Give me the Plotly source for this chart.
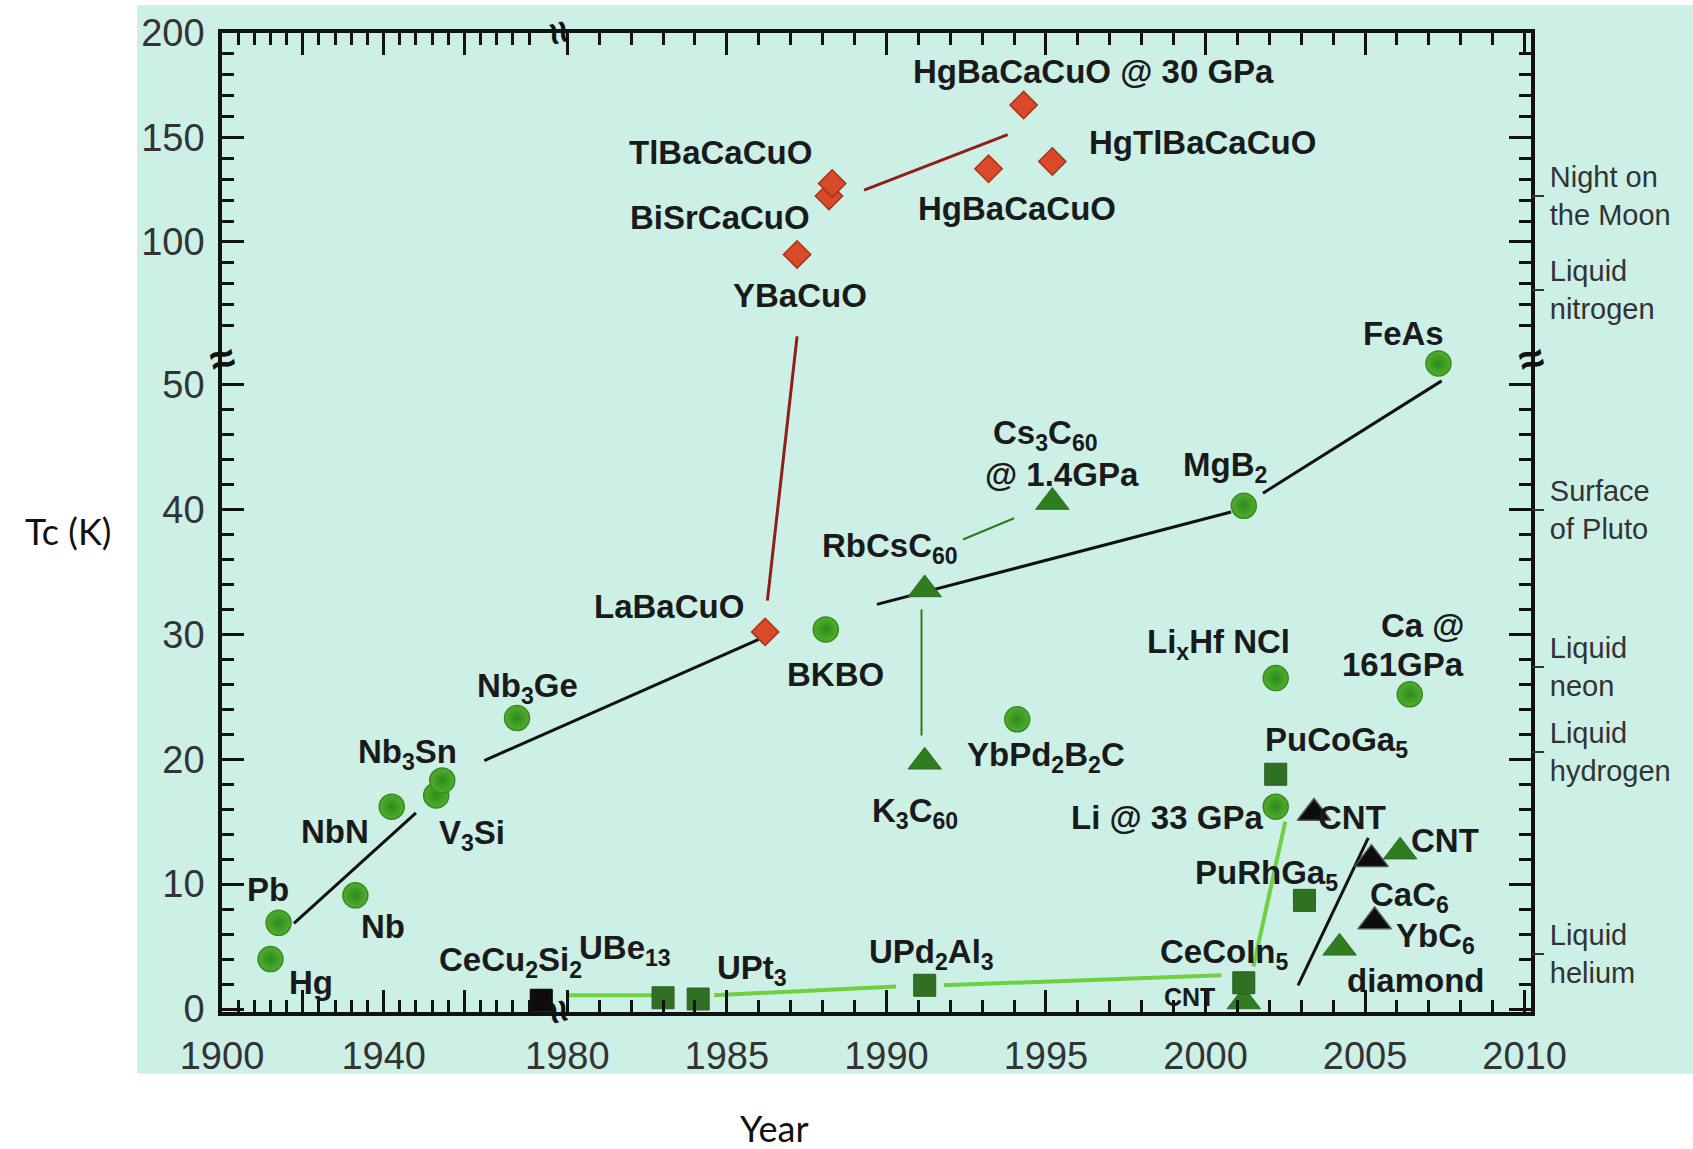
import numpy as np
import plotly.graph_objects as go

# ---------------- data (year, Tc in K) ----------------
CIRCLE_NAMES = ["Hg", "Pb", "Nb", "NbN", "V3Si", "Nb3Sn", "Nb3Ge", "BKBO", "YbPd2B2C",
                "MgB2", "LixHfNCl", "Li @ 33 GPa", "Ca @ 161GPa", "FeAs"]
CIRCLE_YEAR = [1912, 1914, 1933, 1942, 1953, 1954.5, 1973, 1988.1, 1994.1,
               2001.2, 2002.2, 2002.2, 2006.4, 2007.3]
CIRCLE_TC = [4.0, 6.9, 9.1, 16.2, 17.1, 18.3, 23.3, 30.4, 23.2,
             40.3, 26.5, 16.2, 25.2, 51.7]

SQUARE_NAMES = ["UBe13", "UPt3", "UPd2Al3", "CeCoIn5", "PuCoGa5", "PuRhGa5"]
SQUARE_YEAR = [1983.0, 1984.1, 1991.2, 2001.2, 2002.2, 2003.1]
SQUARE_TC = [0.9, 0.8, 1.9, 2.1, 18.8, 8.7]

BLACK_SQUARE_NAMES = ["CeCu2Si2"]
BLACK_SQUARE_YEAR = [1979.0]
BLACK_SQUARE_TC = [0.7]

GREEN_TRI_NAMES = ["RbCsC60", "K3C60", "Cs3C60 @ 1.4GPa", "CNT", "diamond", "CNT (2001)"]
GREEN_TRI_YEAR = [1991.2, 1991.2, 1995.2, 2006.1, 2004.2, 2001.2]
GREEN_TRI_TC = [33.6, 19.8, 40.6, 12.6, 4.9, 0.6]

BLACK_TRI_NAMES = ["CNT", "CaC6", "YbC6"]
BLACK_TRI_YEAR = [2003.4, 2005.2, 2005.3]
BLACK_TRI_TC = [15.7, 12.0, 7.0]

DIAMOND_NAMES = ["LaBaCuO", "YBaCuO", "BiSrCaCuO", "TlBaCaCuO", "HgBaCaCuO",
                 "HgTlBaCaCuO", "HgBaCaCuO @ 30 GPa"]
DIAMOND_YEAR = [1986.2, 1987.2, 1988.2, 1988.3, 1993.2, 1995.2, 1994.3]
DIAMOND_TC = [30.2, 94.0, 122.0, 128.0, 135.0, 138.5, 165.5]

# guide lines: (year0, Tc0, year1, Tc1)
BLACK_LINES = [(1917.8, 6.85, 1948.0, 15.7),
               (1964.9, 19.9, 1986.0, 29.6),
               (1989.7, 32.4, 2000.8, 39.8),
               (2001.8, 41.3, 2007.4, 50.3),
               (2002.9, 1.9, 2005.1, 13.7)]
RED_LINES = [(1986.27, 32.7, 1987.2, 54.8),
             (1989.3, 124.8, 1993.8, 151.4)]
DARKGREEN_LINES = [(1992.4, 37.6, 1994.0, 39.3),
                   (1991.1, 32.0, 1991.1, 21.9)]
LIGHTGREEN_LINES = [(1980.0, 1.1, 1982.7, 1.1),
                    (1984.6, 1.1, 1990.3, 1.8),
                    (1991.8, 1.9, 2000.5, 2.7),
                    (2001.5, 3.4, 2002.5, 15.0)]

# label texts and anchor positions (year, Tc)
LABELS = [
    ("Pb", 1911.4, 9.6), ("Hg", 1922.0, 2.15), ("Nb", 1939.9, 6.6), ("NbN", 1928.0, 14.2),
    ("Nb<sub>3</sub>Sn", 1945.8, 20.4), ("V<sub>3</sub>Si", 1961.9, 13.9),
    ("Nb<sub>3</sub>Ge", 1975.7, 25.7), ("CeCu<sub>2</sub>Si<sub>2</sub>", 1971.5, 3.8),
    ("UBe<sub>13</sub>", 1981.8, 4.7), ("UPt<sub>3</sub>", 1985.8, 3.1),
    ("UPd<sub>2</sub>Al<sub>3</sub>", 1991.4, 4.4), ("LaBaCuO", 1983.2, 32.2),
    ("BKBO", 1988.4, 26.8), ("YBaCuO", 1987.3, 74.3), ("BiSrCaCuO", 1984.8, 111.9),
    ("TlBaCaCuO", 1984.8, 142.9), ("HgBaCaCuO @ 30 GPa", 1996.5, 181.4),
    ("HgTlBaCaCuO", 1999.9, 147.6), ("HgBaCaCuO", 1994.1, 116.2),
    ("RbCsC<sub>60</sub>", 1990.1, 36.9), ("Cs<sub>3</sub>C<sub>60</sub>", 1995.0, 46.0),
    ("@ 1.4GPa", 1995.5, 42.8), ("MgB<sub>2</sub>", 2000.6, 43.4), ("FeAs", 2006.2, 56.2),
    ("K<sub>3</sub>C<sub>60</sub>", 1990.9, 15.7), ("YbPd<sub>2</sub>B<sub>2</sub>C", 1995.0, 20.2),
    ("Li<sub>x</sub>Hf NCl", 2000.4, 29.2), ("Ca @", 2006.8, 30.7), ("161GPa", 2006.2, 27.6),
    ("PuCoGa<sub>5</sub>", 2004.1, 21.4), ("Li @ 33 GPa", 1998.8, 15.3),
    ("CNT", 2004.6, 15.3), ("CNT", 2007.5, 13.5), ("PuRhGa<sub>5</sub>", 2001.9, 10.7),
    ("CaC<sub>6</sub>", 2006.4, 9.0), ("YbC<sub>6</sub>", 2007.2, 5.7),
    ("diamond", 2006.6, 2.3), ("CeCoIn<sub>5</sub>", 2000.6, 4.4),
]
SMALL_LABELS = [("CNT", 1999.5, 1.0)]

Y_MAJOR = [0, 10, 20, 30, 40, 50, 100, 150, 200]
Y_MINOR = [t for t in range(2, 50, 2) if t % 10] + [t for t in range(60, 200, 10) if t % 50]
X_MAJOR = [1900, 1920, 1940, 1960, 1980, 1985, 1990, 1995, 2000, 2005, 2010]
X_MAJOR_TEXT = ["1900", "", "1940", "", "1980", "1985", "1990", "1995", "2000", "2005", "2010"]
X_MINOR = [y for y in range(1904, 1980, 4) if y % 20] + [y for y in range(1981, 2010) if y % 5]

REF_NAMES = ["Night on<br>the Moon", "Liquid<br>nitrogen", "Surface<br>of Pluto",
             "Liquid<br>neon", "Liquid<br>hydrogen", "Liquid<br>helium"]
REF_TC = [122, 77, 40, 27.4, 20.6, 4.4]

# ---------------- broken-axis scales ----------------
X_SPLIT, X_GAP, X_LEFT_SCALE = 1980.0, 0.69, 4.04 / 31.9
Y_SPLIT, Y_UP_100, Y_UP_SCALE = 53.0, 61.43, 0.1673


def xd(year):
    v = np.asarray(year, dtype=float)
    return np.where(v >= X_SPLIT, v, X_SPLIT - X_GAP - (X_SPLIT - v) * X_LEFT_SCALE).tolist()


def yd(tc):
    v = np.asarray(tc, dtype=float)
    return np.where(v <= Y_SPLIT, v, Y_UP_100 + (v - 100.0) * Y_UP_SCALE).tolist()


MINT = "#cdf0e6"
BOLD = "Liberation Sans, Arial, sans-serif"

fig = go.Figure()


def add_lines(segs, color, width):
    xs, ys = [], []
    for x0, y0, x1, y1 in segs:
        xs += xd([x0, x1]) + [None]
        ys += yd([y0, y1]) + [None]
    fig.add_trace(go.Scatter(x=xs, y=ys, mode="lines", line=dict(color=color, width=width),
                             hoverinfo="skip", showlegend=False))


add_lines(LIGHTGREEN_LINES, "#6fd040", 4)
add_lines(DARKGREEN_LINES, "#2d7a1e", 2)
add_lines(RED_LINES, "#8e1f16", 3)
add_lines(BLACK_LINES, "#111111", 3)


def add_markers(names, xs, ys, symbol, size, color, line_color, line_w=1, gradient=None):
    m = dict(symbol=symbol, size=size, color=color, line=dict(color=line_color, width=line_w))
    if gradient:
        m["gradient"] = dict(type="radial", color=gradient)
    fig.add_trace(go.Scatter(x=xd(xs), y=yd(ys), mode="markers", marker=m, text=names,
                             hoverinfo="text", showlegend=False))


add_markers(GREEN_TRI_NAMES, GREEN_TRI_YEAR, GREEN_TRI_TC, "triangle-up", 29, "#2f7d20", "#2a6e1c")
add_markers(SQUARE_NAMES, SQUARE_YEAR, SQUARE_TC, "square", 22, "#2f7022", "#2a6020")
add_markers(BLACK_SQUARE_NAMES, BLACK_SQUARE_YEAR, BLACK_SQUARE_TC, "square", 22, "#0d0d0d", "#000000")
add_markers(BLACK_TRI_NAMES, BLACK_TRI_YEAR, BLACK_TRI_TC, "triangle-up", 29, "#0d0d0d", "#555555", 1.5)
add_markers(CIRCLE_NAMES, CIRCLE_YEAR, CIRCLE_TC, "circle", 25, "#4fae2e", "#3a8a22", 1.5, "#2f8a1c")
add_markers(DIAMOND_NAMES, DIAMOND_YEAR, DIAMOND_TC, "diamond", 21, "#d9492a", "#a83418", 1.5)

# invisible trace that activates the right-hand reference axis
fig.add_trace(go.Scatter(x=xd([2000]), y=yd([0]), yaxis="y2", mode="markers",
                         marker=dict(opacity=0), hoverinfo="skip", showlegend=False))

annotations = []
for txt, yr, tc in LABELS:
    annotations.append(dict(x=xd([yr])[0], y=yd([tc])[0], text="<b>" + txt + "</b>", showarrow=False,
                            xanchor="center", yanchor="middle",
                            font=dict(family=BOLD, size=33, color="#1a1a1a")))
for txt, yr, tc in SMALL_LABELS:
    annotations.append(dict(x=xd([yr])[0], y=yd([tc])[0], text="<b>" + txt + "</b>", showarrow=False,
                            xanchor="center", yanchor="middle",
                            font=dict(family=BOLD, size=25, color="#1a1a1a")))

# axis-break marks
YBRK = yd([52.1])[0]
XBRK = 1979.75
for px in (0, 1):
    annotations.append(dict(xref="paper", x=px, y=YBRK, text="<b>≈</b>", showarrow=False,
                            xanchor="center", yanchor="middle", textangle=-15,
                            font=dict(family=BOLD, size=44, color="#111111")))
for py in (0, 1):
    annotations.append(dict(x=XBRK, yref="paper", y=py, text="<b>≈</b>", showarrow=False,
                            xanchor="center", yanchor="middle", textangle=75,
                            font=dict(family=BOLD, size=40, color="#111111")))

# axis titles
annotations.append(dict(xref="paper", yref="paper", x=-0.118, y=0.491, text="Tc (K)", showarrow=False,
                        xanchor="center", yanchor="middle",
                        font=dict(family="Lato, Open Sans, sans-serif", size=36, color="#111111")))
annotations.append(dict(xref="paper", yref="paper", x=0.4217, y=-0.118, text="Year", showarrow=False,
                        xanchor="center", yanchor="middle",
                        font=dict(family="Lato, Open Sans, sans-serif", size=36, color="#111111")))

tickfont = dict(family=BOLD, size=38, color="#333333")
axis_common = dict(showgrid=False, zeroline=False, showline=True, linecolor="#111111", linewidth=3.5,
                   mirror="ticks", ticks="inside", ticklen=22, tickwidth=3, tickcolor="#111111",
                   tickfont=tickfont)

fig.update_layout(
    width=1693, height=1149, autosize=False,
    margin=dict(l=222, r=162, t=28, b=137),
    paper_bgcolor="white", plot_bgcolor=MINT,
    xaxis=dict(range=[xd([1900])[0], 2010.2], tickmode="array", tickvals=xd(X_MAJOR),
               ticktext=X_MAJOR_TEXT, ticklabelstandoff=8,
               minor=dict(tickmode="array", tickvals=xd(X_MINOR), ticks="inside", ticklen=12,
                          tickwidth=2.5, tickcolor="#111111"),
               **axis_common),
    yaxis=dict(range=[-0.24, 78.16], tickmode="array", tickvals=yd(Y_MAJOR),
               ticktext=[str(v) for v in Y_MAJOR], ticklabelstandoff=6,
               minor=dict(tickmode="array", tickvals=yd(Y_MINOR), ticks="inside", ticklen=12,
                          tickwidth=2.5, tickcolor="#111111"),
               **axis_common),
    yaxis2=dict(overlaying="y", side="right", range=[-0.24, 78.16], tickmode="array",
                tickvals=yd(REF_TC), ticktext=REF_NAMES, ticks="outside", ticklen=12, tickwidth=1.5,
                tickcolor="#333333", showline=False, showgrid=False, zeroline=False,
                tickfont=dict(family=BOLD, size=29, color="#333333")),
    annotations=annotations,
    shapes=[dict(type="rect", xref="paper", yref="paper", x0=-0.0649, x1=1.124, y0=-0.063, y1=1.0285,
                 fillcolor=MINT, line=dict(width=0), layer="below")],
)

fig.write_html("out.html", config={"displayModeBar": False},
               post_script="document.body.style.margin='0';")
